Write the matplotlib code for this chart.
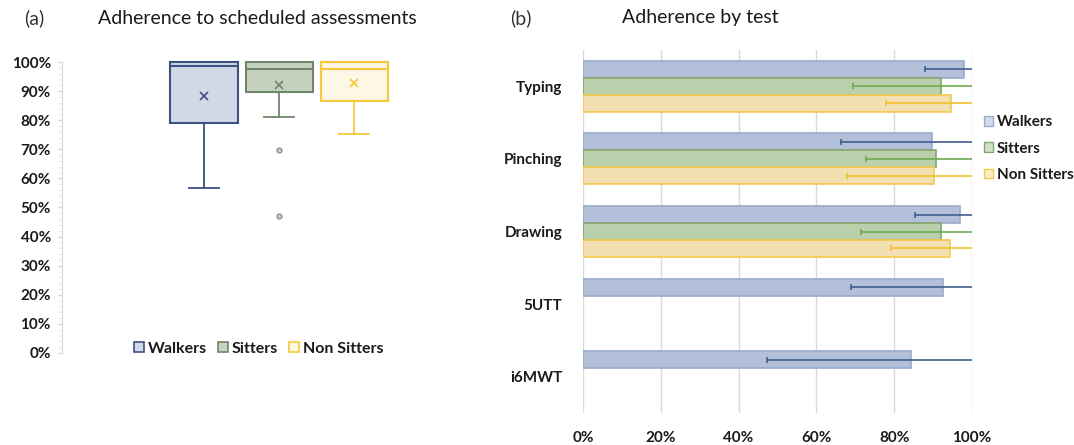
import numpy as np
import matplotlib
matplotlib.use("Agg")
import matplotlib.pyplot as plt
from matplotlib.patches import Patch
from matplotlib.ticker import PercentFormatter, MultipleLocator

plt.rcParams['font.family'] = ['Lato', 'DejaVu Sans']

# ---------------- data ----------------
groups = ["Walkers", "Sitters", "Non Sitters"]

# box plot summaries (fractions)
box_q1 = [0.789, 0.898, 0.866]
box_med = [0.987, 0.975, 0.975]
box_q3 = [1.00, 1.00, 1.00]
box_lo = [0.568, 0.812, 0.752]
box_hi = [1.00, 1.00, 1.00]
box_mean = [0.884, 0.921, 0.928]
box_fliers = [[], [0.697, 0.472], []]

tests = ["Typing", "Pinching", "Drawing", "5UTT", "i6MWT"]
walkers = [0.979, 0.898, 0.968, 0.925, 0.844]
sitters = [0.921, 0.908, 0.921, np.nan, np.nan]
non_sitters = [0.947, 0.902, 0.944, np.nan, np.nan]
walkers_err = [0.099, 0.236, 0.115, 0.236, 0.371]
sitters_err = [0.226, 0.181, 0.207, np.nan, np.nan]
non_sitters_err = [0.167, 0.223, 0.153, np.nan, np.nan]

# ---------------- styles ----------------
box_fill = ["#d2d8e6", "#c6d1bf", "#fdf7e6"]
box_edge = ["#3d5283", "#6e8768", "#f7c83a"]
bar_fill = ["#b4c0da", "#bacfab", "#f3e0b2"]
bar_edge = ["#9aaacb", "#82a66f", "#f4c94e"]
err_col = ["#3f5f8e", "#6dab4f", "#f2c12a"]
leg_fill = ["#d3daee", "#d2e2c8", "#fbecc6"]

W, H = 1074, 445
fig = plt.figure(figsize=(W / 100, H / 100), dpi=100)

# ---------------- (a) box plot ----------------
ax1 = fig.add_axes([62 / W, 1 - 353 / H, (410 - 62) / W, (353 - 62) / H])
stats = []
for i in range(3):
    stats.append(dict(med=box_med[i], q1=box_q1[i], q3=box_q3[i],
                      whislo=box_lo[i], whishi=box_hi[i],
                      mean=box_mean[i], fliers=box_fliers[i]))
pos = [1, 2, 3]
for i in range(3):
    ax1.bxp([stats[i]], positions=[pos[i]], widths=0.9, showmeans=True,
            patch_artist=True, manage_ticks=False,
            boxprops=dict(facecolor=box_fill[i], edgecolor=box_edge[i], linewidth=1.5),
            medianprops=dict(color=box_edge[i], linewidth=1.5),
            whiskerprops=dict(color=box_edge[i], linewidth=1.3),
            capprops=dict(color=box_edge[i], linewidth=1.3),
            capwidths=0.4,
            meanprops=dict(marker='x', markeredgecolor=box_edge[i], markersize=6,
                           markeredgewidth=1.2),
            flierprops=dict(marker='o', markerfacecolor='#c9cfc2',
                            markeredgecolor='#8a9684', markersize=3.5))
for a in ax1.get_children():
    if hasattr(a, 'set_clip_on'):
        a.set_clip_on(False)

ax1.set_xlim(-0.893, 3.74)
ax1.set_ylim(0, 1)
ax1.yaxis.set_major_locator(MultipleLocator(0.1))
ax1.yaxis.set_minor_locator(MultipleLocator(0.02))
ax1.yaxis.set_major_formatter(PercentFormatter(1.0, decimals=0))
ax1.tick_params(axis='y', which='major', length=3, color='#d0d0d0', pad=5,
                labelsize=11, labelcolor='#1a1a1a')
ax1.tick_params(axis='y', which='minor', length=2, color='#e0e0e0')
ax1.set_xticks([])
for s in ['top', 'right', 'bottom']:
    ax1.spines[s].set_visible(False)
ax1.spines['left'].set_color('#d6d6d6')
for t in ax1.get_yticklabels():
    t.set_fontweight('bold')

h1 = [Patch(facecolor=box_fill[i], edgecolor=box_edge[i], linewidth=1.2) for i in range(3)]
ax1.legend(h1, groups, loc='center', bbox_to_anchor=(0.565, 0.015), ncol=3,
           frameon=False, handlelength=0.6, handleheight=0.6,
           handletextpad=0.25, columnspacing=0.7,
           prop=dict(size=11.5, weight='bold'), labelcolor='#1a1a1a')

fig.text(24 / W, 1 - 18 / H, "(a)", fontsize=14, va='center', ha='left',
         color='#333333')
fig.text(257 / W, 1 - 18 / H, "Adherence to scheduled assessments",
         fontsize=14, va='center', ha='center', color='#1a1a1a')

# ---------------- (b) horizontal bars ----------------
ax2 = fig.add_axes([583 / W, 1 - 413 / H, (972 - 583) / W, (413 - 50) / H])
y = np.arange(len(tests))
bh = 0.234
series = [walkers, sitters, non_sitters]
errs = [walkers_err, sitters_err, non_sitters_err]
offsets = [-bh, 0, bh]
for i in range(3):
    ax2.barh(y + offsets[i], series[i], height=bh, color=bar_fill[i],
             edgecolor=bar_edge[i], linewidth=1.2, label=groups[i], zorder=2)
    ax2.errorbar(series[i], y + offsets[i], xerr=errs[i], fmt='none',
                 ecolor=err_col[i], elinewidth=1.2, capsize=2.5, capthick=1.2,
                 zorder=3)

ax2.set_xlim(0, 1)
ax2.set_ylim(len(tests) - 0.5, -0.5)
ax2.set_yticks(y)
ax2.set_yticklabels(tests)
ax2.xaxis.set_major_locator(MultipleLocator(0.2))
ax2.xaxis.set_major_formatter(PercentFormatter(1.0, decimals=0))
ax2.tick_params(length=0, labelsize=11, labelcolor='#1a1a1a')
ax2.tick_params(axis='x', pad=13)
ax2.tick_params(axis='y', pad=15)
ax2.grid(axis='x', color='#d9d9d9', linewidth=1, zorder=0)
ax2.set_axisbelow(True)
for s in ax2.spines.values():
    s.set_visible(False)
for t in ax2.get_yticklabels() + ax2.get_xticklabels():
    t.set_fontweight('bold')

h2 = [Patch(facecolor=leg_fill[i], edgecolor=bar_edge[i], linewidth=1) for i in range(3)]
ax2.legend(h2, groups, loc='upper left', bbox_to_anchor=(1.03, 0.82),
           frameon=False, handlelength=0.6, handleheight=0.6, handletextpad=0.25,
           borderpad=0, borderaxespad=0, labelspacing=0.8,
           prop=dict(size=11, weight='bold'), labelcolor='#1a1a1a')

fig.text(510 / W, 1 - 18 / H, "(b)", fontsize=14, va='center', ha='left',
         color='#333333')
fig.text(700 / W, 1 - 18 / H, "Adherence by test", fontsize=14,
         va='center', ha='center', color='#1a1a1a')

fig.savefig("out.png", dpi=100)
